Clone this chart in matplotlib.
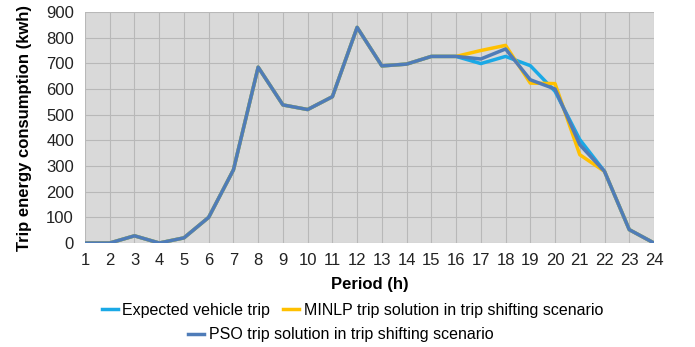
import matplotlib.pyplot as plt

plt.rcParams["font.family"] = ["Liberation Sans", "DejaVu Sans"]

hours = list(range(1, 25))
expected = [0, 0, 28, 0, 20, 100, 285, 685, 538, 520, 570, 840, 690, 697, 727, 727,
            699, 727, 691, 591, 403, 279, 52, 0]
minlp = [0, 0, 28, 0, 20, 100, 285, 685, 538, 520, 570, 840, 690, 697, 727, 727,
         750, 770, 623, 621, 344, 279, 52, 0]
pso = [0, 0, 28, 0, 20, 100, 285, 685, 538, 520, 570, 840, 690, 697, 727, 727,
       717, 756, 636, 600, 383, 279, 52, 0]

fig = plt.figure(figsize=(6.95, 3.47), dpi=100)
ax = fig.add_axes([0.1223, 0.2997, 0.8187, 0.6657])
ax.set_facecolor("#D9D9D9")

l1, = ax.plot(hours, expected, color="#1AA9E6", lw=2.5, label="Expected vehicle trip")
l2, = ax.plot(hours, minlp, color="#FFC000", lw=2.5, label="MINLP trip solution in trip shifting scenario")
l3, = ax.plot(hours, pso, color="#4F7CB8", lw=2.5, label="PSO trip solution in trip shifting scenario")

ax.set_xlim(1, 24)
ax.set_ylim(0, 900)
ax.set_xticks(hours)
ax.set_yticks(range(0, 901, 100))
ax.grid(True, color="#B8B8B8", lw=0.8)
ax.set_axisbelow(True)
for s in ax.spines.values():
    s.set_visible(False)
ax.tick_params(length=0, labelsize=12, colors="#222222")
ax.tick_params(axis="x", pad=7)
ax.tick_params(axis="y", pad=8)

ax.set_xlabel("Period (h)", fontsize=12, fontweight="bold", labelpad=7)
ax.set_ylabel("Trip energy consumption (kwh)", fontsize=12, fontweight="bold", labelpad=10)

fig.legend(handles=[l1, l2], loc="center", bbox_to_anchor=(0.507, 0.105), ncol=2,
           frameon=False, fontsize=11.5, handlelength=1.0, handletextpad=0.3,
           columnspacing=0.8)
fig.legend(handles=[l3], loc="center", bbox_to_anchor=(0.49, 0.035), frameon=False,
           fontsize=11.5, handlelength=1.0, handletextpad=0.3)

fig.savefig("out.png", dpi=100)
